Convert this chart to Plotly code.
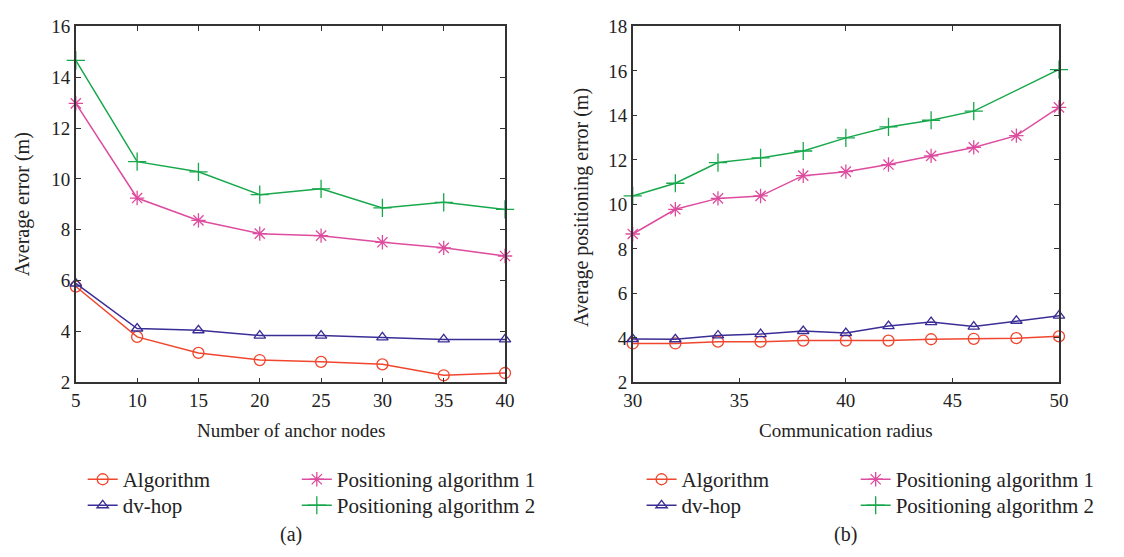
import plotly.graph_objects as go

# ---------------- data ----------------
anchor_nodes = [5, 10, 15, 20, 25, 30, 35, 40]
a_algorithm = [5.77, 3.79, 3.16, 2.88, 2.81, 2.71, 2.28, 2.37]
a_dvhop = [5.89, 4.12, 4.05, 3.84, 3.84, 3.77, 3.69, 3.69]
a_pos1 = [12.97, 9.25, 8.37, 7.85, 7.77, 7.51, 7.29, 6.97]
a_pos2 = [14.66, 10.68, 10.28, 9.38, 9.61, 8.86, 9.08, 8.80]

radius = [30, 32, 34, 36, 38, 40, 42, 44, 46, 48, 50]
b_algorithm = [3.75, 3.75, 3.83, 3.83, 3.88, 3.88, 3.88, 3.94, 3.96, 3.99, 4.07]
b_dvhop = [3.95, 3.94, 4.11, 4.17, 4.31, 4.22, 4.53, 4.71, 4.51, 4.77, 5.00]
b_pos1 = [8.67, 9.78, 10.27, 10.38, 11.29, 11.47, 11.79, 12.18, 12.56, 13.09, 14.36]
radius_pos2 = [30, 32, 34, 36, 38, 40, 42, 44, 46, 50]
b_pos2 = [10.38, 10.95, 11.88, 12.09, 12.40, 12.99, 13.48, 13.78, 14.19, 16.06]

series_names = ["Algorithm", "dv-hop", "Positioning algorithm 1", "Positioning algorithm 2"]
colors = ["#F0462D", "#3A2D96", "#DD4C9E", "#17A84B"]
symbols = ["circle-open", "triangle-up-open", "asterisk-open", "cross-thin-open"]
sizes = [11, 10, 12, 13]

FONT = "Liberation Serif"
W, H = 1124, 557
TXT = "#222222"

fig = go.Figure()

left_data = [(anchor_nodes, a_algorithm), (anchor_nodes, a_dvhop), (anchor_nodes, a_pos1), (anchor_nodes, a_pos2)]
right_data = [(radius, b_algorithm), (radius, b_dvhop), (radius, b_pos1), (radius_pos2, b_pos2)]

for i, (x, y) in enumerate(left_data):
    fig.add_trace(go.Scatter(
        x=x, y=y, name=series_names[i], mode="lines+markers",
        line=dict(color=colors[i], width=1.5),
        marker=dict(symbol=symbols[i], size=sizes[i], color=colors[i],
                    line=dict(color=colors[i], width=1.3)),
        cliponaxis=False, xaxis="x", yaxis="y", showlegend=True,
        legend="legend" if i == 0 else f"legend{i + 1}",
    ))
for i, (x, y) in enumerate(right_data):
    fig.add_trace(go.Scatter(
        x=x, y=y, name=series_names[i], mode="lines+markers",
        line=dict(color=colors[i], width=1.5),
        marker=dict(symbol=symbols[i], size=sizes[i], color=colors[i],
                    line=dict(color=colors[i], width=1.3)),
        cliponaxis=False, xaxis="x2", yaxis="y2", showlegend=True,
        legend=f"legend{i + 5}",
    ))

axis_common = dict(
    showline=True, mirror="ticks", linecolor="#333333", linewidth=1.5,
    ticks="inside", ticklen=5, tickwidth=1.2, tickcolor="#333333",
    showgrid=False, zeroline=False,
    tickfont=dict(family=FONT, size=19, color=TXT),
)

fig.update_layout(
    width=W, height=H,
    margin=dict(l=0, r=0, t=0, b=0),
    paper_bgcolor="white", plot_bgcolor="white",
    font=dict(family=FONT, size=18, color=TXT),
    showlegend=True,
    xaxis=dict(domain=[67 / W, 504 / W], range=[5, 40], tickvals=anchor_nodes,
               anchor="y", **axis_common),
    yaxis=dict(domain=[(H - 387) / H, (H - 17) / H], range=[2, 16], dtick=2,
               anchor="x", **axis_common),
    xaxis2=dict(domain=[634 / W, 1068 / W], range=[30, 50], dtick=5,
                anchor="y2", **axis_common),
    yaxis2=dict(domain=[(H - 387) / H, (H - 17) / H], range=[2, 18], dtick=2,
                anchor="x2", **axis_common),
)

# legends: one per entry, positioned in two columns under each panel
legend_pos = [
    (120, 488), (120, 515), (338, 488), (338, 515),
    (689, 488), (689, 515), (907, 488), (907, 515),
]
for k, (tx, ty) in enumerate(legend_pos):
    key = "legend" if k == 0 else f"legend{k + 1}"
    fig.layout[key] = dict(
        x=(tx - 46) / W, y=1 - ty / H, xanchor="left", yanchor="middle",
        bgcolor="rgba(0,0,0,0)", borderwidth=0, visible=True,
        font=dict(family=FONT, size=21, color=TXT),
        itemwidth=30,
    )

annotations = [
    dict(text="Number of anchor nodes", x=286 / W, y=1 - 437 / H, size=19),
    dict(text="Communication radius", x=851 / W, y=1 - 437 / H, size=19),
    dict(text="(a)", x=286 / W, y=1 - 545 / H, size=20),
    dict(text="(b)", x=851 / W, y=1 - 545 / H, size=20),
    dict(text="Average error (m)", x=13 / W, y=1 - 202 / H, textangle=-90, size=20),
    dict(text="Average positioning error (m)", x=582 / W, y=1 - 205 / H, textangle=-90, size=20),
]
for a in annotations:
    sz = a.pop("size")
    fig.add_annotation(xref="paper", yref="paper", showarrow=False,
                       xanchor="center", yanchor="middle",
                       font=dict(family=FONT, size=sz, color=TXT), **a)

fig.write_html("out.html")
